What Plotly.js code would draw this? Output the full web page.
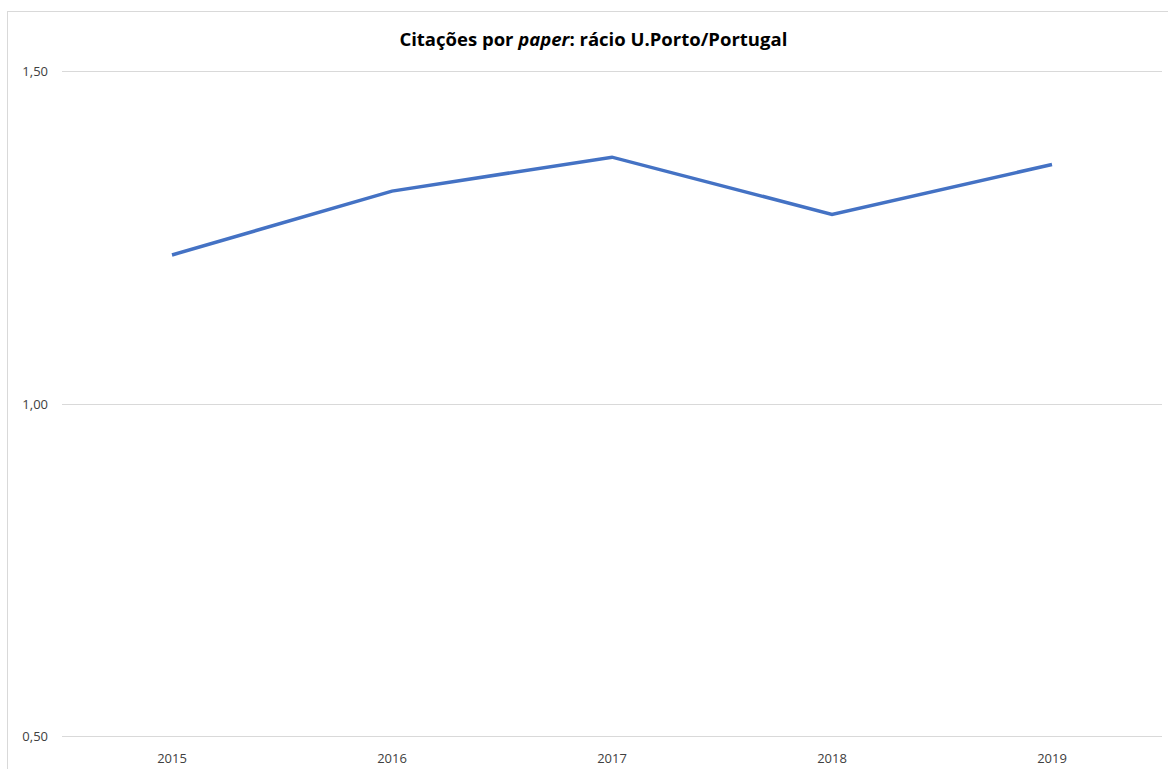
<!DOCTYPE html>
<html>
<head>
<meta charset="utf-8">
<script src="https://cdn.plot.ly/plotly-3.0.1.min.js"></script>
<style>
  html, body { margin: 0; padding: 0; background: #ffffff; }
  #wrap { position: relative; width: 1168px; height: 769px; overflow: hidden; }
  #frame { position: absolute; left: 7px; top: 11px; width: 1200px; height: 800px;
           border-left: 1px solid #d9d9d9; border-top: 1px solid #d9d9d9; box-sizing: border-box; pointer-events: none; }
  #chart { position: absolute; left: 0; top: 0; width: 1168px; height: 769px; }
</style>
</head>
<body>
<div id="wrap">
  <div id="chart"></div>
  <div id="frame"></div>
</div>
<script>
const years = ["2015", "2016", "2017", "2018", "2019"];
const ratio = [1.224, 1.32, 1.371, 1.285, 1.36];
const yTickVals = [0.5, 1.0, 1.5];
const yTickText = ["0,50", "1,00", "1,50"];
const chartTitle = "Citações por <i>paper</i>: rácio U.Porto/Portugal";

const trace = {
  x: years,
  y: ratio,
  type: "scatter",
  mode: "lines",
  line: { color: "#4472C4", width: 3.5 },
  hoverinfo: "x+y"
};

const layout = {
  width: 1168,
  height: 769,
  margin: { l: 62, r: 6, t: 68, b: 29 },
  paper_bgcolor: "#ffffff",
  plot_bgcolor: "#ffffff",
  showlegend: false,
  font: { family: "Open Sans, Noto Sans, sans-serif", color: "#404040", size: 13 },
  title: {
    text: chartTitle,
    font: { family: "Open Sans, Noto Sans, sans-serif", size: 18.5, color: "#000000", weight: "bold" },
    x: 0.508,
    xanchor: "center",
    y: 0.948,
    yanchor: "middle"
  },
  xaxis: {
    type: "category",
    range: [-0.5, 4.5],
    showgrid: false,
    zeroline: false,
    showline: false,
    ticks: "",
    ticklabelstandoff: 9,
    tickfont: { size: 13, color: "#404040" },
    fixedrange: true
  },
  yaxis: {
    range: [0.495, 1.505],
    tickvals: yTickVals,
    ticktext: yTickText,
    showgrid: true,
    gridcolor: "#d9d9d9",
    gridwidth: 1,
    zeroline: false,
    showline: false,
    ticks: "",
    ticklabelstandoff: 13,
    tickfont: { size: 13, color: "#404040" },
    fixedrange: true
  }
};

Plotly.newPlot("chart", [trace], layout, { displayModeBar: false, staticPlot: true });
</script>
</body>
</html>
